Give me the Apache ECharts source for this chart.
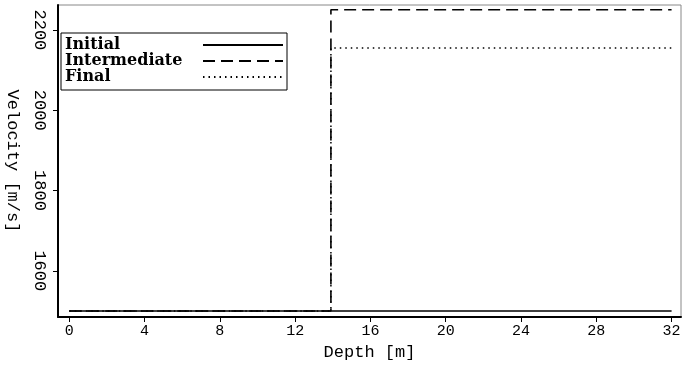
<!DOCTYPE html>
<html>
<head>
<meta charset="utf-8">
<script src="https://cdn.jsdelivr.net/npm/echarts@6/dist/echarts.min.js"></script>
<style>
  html, body { margin: 0; padding: 0; background: #fff; }
  #chart { width: 690px; height: 368px; }
</style>
</head>
<body>
<div id="chart"></div>
<script>
// Velocity profiles versus depth
const depthTicks = [0, 4, 8, 12, 16, 20, 24, 28, 32];
const velocityTicks = [1600, 1800, 2000, 2200];

const initialDepth = [0, 32];
const initialVel = [1500, 1500];

const intermediateDepth = [0, 13.9, 13.9, 32];
const intermediateVel = [1500, 1500, 2250, 2250];

const finalDepth = [0, 13.9, 13.9, 32];
const finalVel = [1500, 1500, 2155, 2155];

const pair = (xs, ys) => xs.map((x, i) => [x, ys[i]]);

const axisFont = 'Liberation Mono';
const chart = echarts.init(document.getElementById('chart'), null, { renderer: 'canvas' });

chart.setOption({
  animation: false,
  backgroundColor: '#fff',
  grid: {
    left: 58, right: 9, top: 5, bottom: 51,
    outerBoundsMode: 'none',
    containLabel: false,
    show: true, borderColor: '#888', borderWidth: 1, backgroundColor: 'transparent'
  },
  legend: {
    left: 61, top: 33,
    orient: 'vertical',
    align: 'right',
    itemWidth: 80, itemHeight: 10, itemGap: 0,
    padding: [4, 3, 5, 4],
    borderColor: '#000', borderWidth: 1,
    itemStyle: { opacity: 0 },
    formatter: name => '{n|' + name + '}',
    textStyle: {
      color: '#000',
      rich: {
        n: {
          fontFamily: 'DejaVu Serif', fontWeight: 'bold', fontSize: 16,
          color: '#000', width: 133, lineHeight: 16, align: 'left'
        }
      }
    },
    data: ['Initial', 'Intermediate', 'Final']
  },
  xAxis: {
    type: 'value', min: -0.6, max: 32.5,
    name: 'Depth [m]', nameLocation: 'middle', nameGap: 27,
    nameTextStyle: { fontFamily: axisFont, fontSize: 17, color: '#000' },
    axisLine: { onZero: false, lineStyle: { color: '#000', width: 2 } },
    axisTick: { customValues: depthTicks, length: 5, lineStyle: { color: '#000' } },
    axisLabel: { customValues: depthTicks, margin: 7, fontFamily: axisFont, fontSize: 15, color: '#000',
      formatter: v => String(v) },
    splitLine: { show: false }
  },
  yAxis: {
    type: 'value', min: 1485, max: 2262,
    name: 'Velocity [m/s]', nameLocation: 'middle', nameGap: 37, nameRotate: -90,
    nameTextStyle: { fontFamily: axisFont, fontSize: 17, color: '#000' },
    axisLine: { onZero: false, lineStyle: { color: '#000', width: 2 } },
    axisTick: { customValues: velocityTicks, length: 5, lineStyle: { color: '#000' } },
    axisLabel: { customValues: velocityTicks, rotate: -90, margin: 10, fontFamily: axisFont, fontSize: 17, color: '#000',
      formatter: v => String(v) },
    splitLine: { show: false }
  },
  series: [
    {
      name: 'Initial', type: 'line', symbol: 'none',
      data: pair(initialDepth, initialVel),
      lineStyle: { color: '#000', width: 1.5, type: 'solid' },
      itemStyle: { color: '#000' }
    },
    {
      name: 'Intermediate', type: 'line', symbol: 'none',
      data: pair(intermediateDepth, intermediateVel),
      lineStyle: { color: '#000', width: 1.6, type: [12, 6] },
      itemStyle: { color: '#000' }
    },
    {
      name: 'Final', type: 'line', symbol: 'none',
      data: pair(finalDepth, finalVel),
      lineStyle: { color: '#000', width: 1.5, type: [1.5, 4] },
      itemStyle: { color: '#000' }
    }
  ]
});
</script>
</body>
</html>
